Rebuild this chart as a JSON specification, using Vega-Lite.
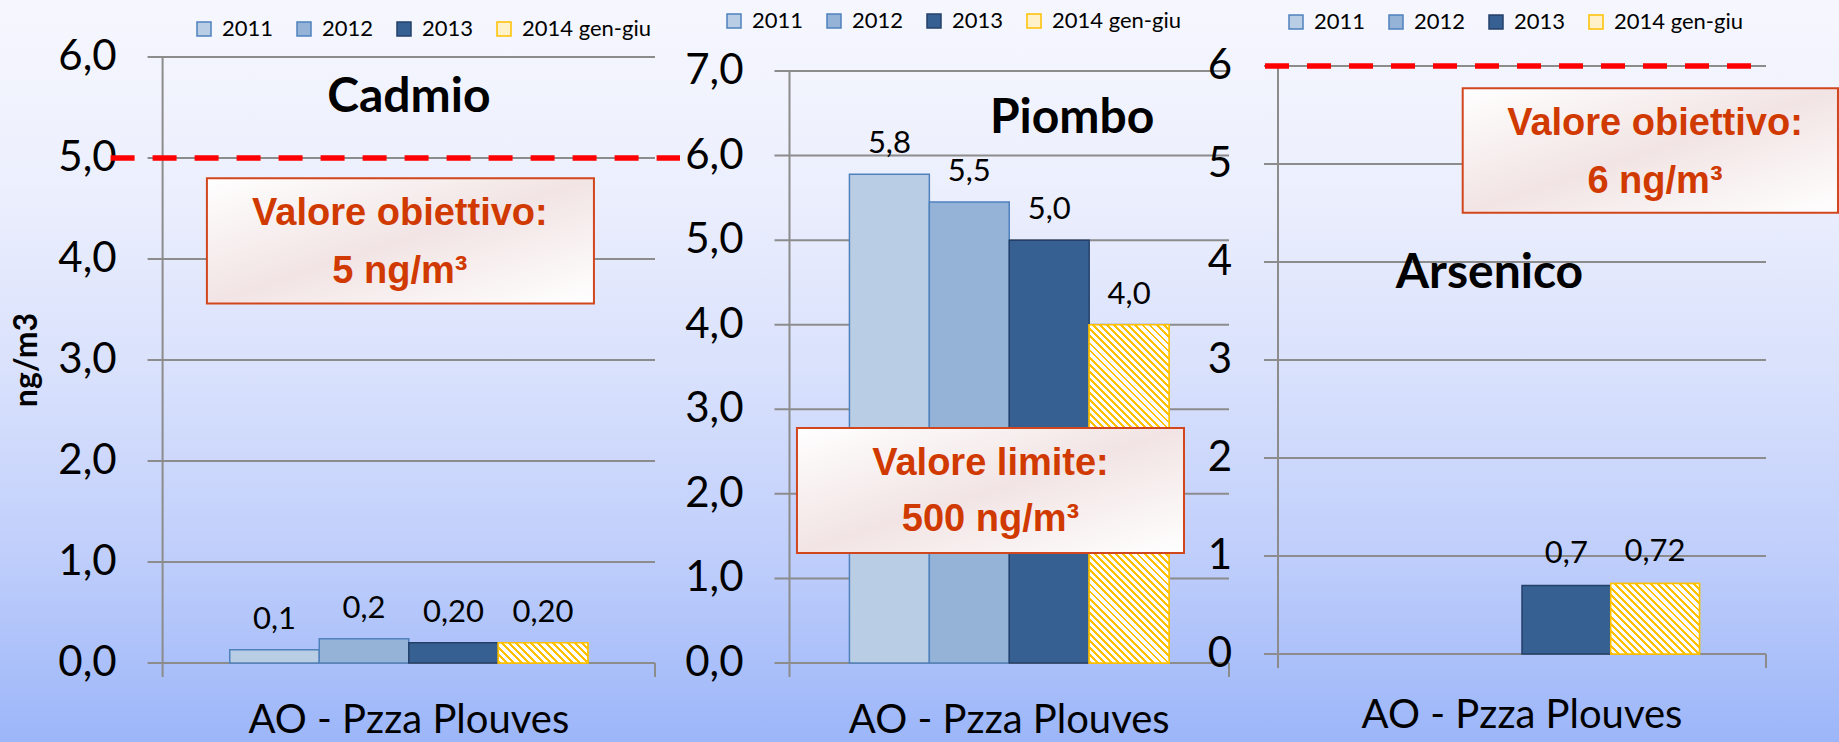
{
  "$schema": "https://vega.github.io/schema/vega-lite/v6.json",
  "width": 1839,
  "height": 742,
  "autosize": {"type": "none"},
  "padding": 0,
  "background": "#DCE3FC",
  "datasets": {
    "bars": [
      {"metal": "Cadmio", "site": "AO - Pzza Plouves", "year": "2011", "value": 0.13, "label": "0,1"},
      {"metal": "Cadmio", "site": "AO - Pzza Plouves", "year": "2012", "value": 0.24, "label": "0,2"},
      {"metal": "Cadmio", "site": "AO - Pzza Plouves", "year": "2013", "value": 0.20, "label": "0,20"},
      {"metal": "Cadmio", "site": "AO - Pzza Plouves", "year": "2014 gen-giu", "value": 0.20, "label": "0,20"},
      {"metal": "Piombo", "site": "AO - Pzza Plouves", "year": "2011", "value": 5.78, "label": "5,8"},
      {"metal": "Piombo", "site": "AO - Pzza Plouves", "year": "2012", "value": 5.45, "label": "5,5"},
      {"metal": "Piombo", "site": "AO - Pzza Plouves", "year": "2013", "value": 5.0, "label": "5,0"},
      {"metal": "Piombo", "site": "AO - Pzza Plouves", "year": "2014 gen-giu", "value": 4.0, "label": "4,0"},
      {"metal": "Arsenico", "site": "AO - Pzza Plouves", "year": "2013", "value": 0.70, "label": "0,7"},
      {"metal": "Arsenico", "site": "AO - Pzza Plouves", "year": "2014 gen-giu", "value": 0.72, "label": "0,72"}
    ],
    "ticks": [
      {"metal": "Cadmio", "v": 0}, {"metal": "Cadmio", "v": 1}, {"metal": "Cadmio", "v": 2}, {"metal": "Cadmio", "v": 3},
      {"metal": "Cadmio", "v": 4}, {"metal": "Cadmio", "v": 5}, {"metal": "Cadmio", "v": 6},
      {"metal": "Piombo", "v": 0}, {"metal": "Piombo", "v": 1}, {"metal": "Piombo", "v": 2}, {"metal": "Piombo", "v": 3},
      {"metal": "Piombo", "v": 4}, {"metal": "Piombo", "v": 5}, {"metal": "Piombo", "v": 6}, {"metal": "Piombo", "v": 7},
      {"metal": "Arsenico", "v": 0}, {"metal": "Arsenico", "v": 1}, {"metal": "Arsenico", "v": 2}, {"metal": "Arsenico", "v": 3},
      {"metal": "Arsenico", "v": 4}, {"metal": "Arsenico", "v": 5}, {"metal": "Arsenico", "v": 6}
    ],
    "one": [{}]
  },
  "config": {
    "view": {"stroke": null, "fill": {"gradient": "linear", "x1": 0, "y1": 0, "x2": 0, "y2": 1, "stops": [{"offset": 0, "color": "#F6F7FE"}, {"offset": 0.25, "color": "#ECEFFD"}, {"offset": 0.5, "color": "#D9E1FC"}, {"offset": 0.75, "color": "#BFCEFB"}, {"offset": 1, "color": "#9CB6F9"}]}},
    "locale": {"number": {"decimal": ",", "thousands": ".", "grouping": [3], "currency": ["€", ""]}},
    "text": {"font": "Lato", "color": "#000000"},
    "legend": {"orient": "none", "direction": "horizontal", "title": null, "symbolType": "square", "symbolSize": 196, "symbolStrokeWidth": 1.5, "labelFont": "Lato", "labelFontSize": 22, "labelColor": "#000000", "labelOffset": 7, "columnPadding": 19, "padding": 0}
  },
  "resolve": {
    "scale": {"x": "independent", "y": "independent", "xOffset": "independent", "color": "independent", "stroke": "independent"},
    "legend": {"color": "independent", "stroke": "independent"}
  },
  "layer": [
    {
      "layer": [
        {
          "data": {"name": "ticks"}, "transform": [{"filter": "datum.metal === 'Cadmio'"}],
          "mark": {"type": "rule", "color": "#8C8C8C", "strokeWidth": 2, "xOffset": -15},
          "encoding": {
            "x": {"datum": "AO - Pzza Plouves", "type": "nominal", "bandPosition": 0, "axis": null, "scale": {"domain": ["AO - Pzza Plouves"], "range": [162.6, 655], "paddingInner": 0, "paddingOuter": 0}},
            "x2": {"datum": "AO - Pzza Plouves", "bandPosition": 1},
            "y": {"field": "v", "type": "quantitative", "axis": null, "scale": {"domain": [0, 6], "range": [663, 57], "nice": false, "zero": false}}
          }
        },
        {
          "data": {"name": "one"},
          "mark": {"type": "rule", "color": "#8C8C8C", "strokeWidth": 2, "y2Offset": 14},
          "encoding": {
            "x": {"datum": "AO - Pzza Plouves", "type": "nominal", "bandPosition": 0},
            "y": {"datum": 6, "type": "quantitative"},
            "y2": {"datum": 0}
          }
        },
        {
          "data": {"name": "one"},
          "mark": {"type": "rule", "color": "#8C8C8C", "strokeWidth": 2, "y2Offset": 14},
          "encoding": {
            "x": {"datum": "AO - Pzza Plouves", "type": "nominal", "bandPosition": 1},
            "y": {"datum": 0, "type": "quantitative"},
            "y2": {"datum": 0}
          }
        },
        {
          "data": {"name": "ticks"}, "transform": [{"filter": "datum.metal === 'Cadmio'"}],
          "mark": {"type": "text", "align": "right", "baseline": "middle", "dx": -46, "fontSize": 42},
          "encoding": {
            "x": {"datum": "AO - Pzza Plouves", "type": "nominal", "bandPosition": 0},
            "y": {"field": "v", "type": "quantitative"},
            "text": {"field": "v", "type": "quantitative", "format": ".1f"}
          }
        },
        {
          "data": {"name": "bars"}, "transform": [{"filter": "datum.metal === 'Cadmio'"}],
          "mark": {"type": "bar", "strokeWidth": 1.5},
          "encoding": {
            "x": {"field": "site", "type": "nominal"},
            "xOffset": {"field": "year", "type": "nominal", "scale": {"domain": ["2011", "2012", "2013", "2014 gen-giu"], "paddingInner": 0, "paddingOuter": 0.75}},
            "y": {"field": "value", "type": "quantitative"},
            "color": {"field": "year", "type": "nominal", "scale": {"domain": ["2011", "2012", "2013", "2014 gen-giu"], "range": ["#B9CDE5", "#95B3D7", "#376092", "#FFF1C9"]}, "legend": {"legendX": 193, "legendY": 18}},
            "stroke": {"field": "year", "type": "nominal", "scale": {"domain": ["2011", "2012", "2013", "2014 gen-giu"], "range": ["#4F81BD", "#4F81BD", "#24406A", "#FFC000"]}, "legend": {"legendX": 193, "legendY": 18}}
          }
        },
        {
          "data": {"name": "bars"}, "transform": [{"filter": "datum.metal === 'Cadmio' && datum.year === '2014 gen-giu'"}],
          "mark": {"type": "bar", "strokeWidth": 1.5, "stroke": "#FFC000", "fill": {"gradient": "linear", "x1": 0, "y1": 1, "x2": 1.1663, "y2": 0.7369, "stops": [
            {"offset": 0, "color": "#FFC000"}, {"offset": 0.0267, "color": "#FFC000"}, {"offset": 0.0267, "color": "#FFFFFF"}, {"offset": 0.0667, "color": "#FFFFFF"},
            {"offset": 0.0667, "color": "#FFC000"}, {"offset": 0.0933, "color": "#FFC000"}, {"offset": 0.0933, "color": "#FFFFFF"}, {"offset": 0.1333, "color": "#FFFFFF"},
            {"offset": 0.1333, "color": "#FFC000"}, {"offset": 0.16, "color": "#FFC000"}, {"offset": 0.16, "color": "#FFFFFF"}, {"offset": 0.2, "color": "#FFFFFF"},
            {"offset": 0.2, "color": "#FFC000"}, {"offset": 0.2267, "color": "#FFC000"}, {"offset": 0.2267, "color": "#FFFFFF"}, {"offset": 0.2667, "color": "#FFFFFF"},
            {"offset": 0.2667, "color": "#FFC000"}, {"offset": 0.2933, "color": "#FFC000"}, {"offset": 0.2933, "color": "#FFFFFF"}, {"offset": 0.3333, "color": "#FFFFFF"},
            {"offset": 0.3333, "color": "#FFC000"}, {"offset": 0.36, "color": "#FFC000"}, {"offset": 0.36, "color": "#FFFFFF"}, {"offset": 0.4, "color": "#FFFFFF"},
            {"offset": 0.4, "color": "#FFC000"}, {"offset": 0.4267, "color": "#FFC000"}, {"offset": 0.4267, "color": "#FFFFFF"}, {"offset": 0.4667, "color": "#FFFFFF"},
            {"offset": 0.4667, "color": "#FFC000"}, {"offset": 0.4933, "color": "#FFC000"}, {"offset": 0.4933, "color": "#FFFFFF"}, {"offset": 0.5333, "color": "#FFFFFF"},
            {"offset": 0.5333, "color": "#FFC000"}, {"offset": 0.56, "color": "#FFC000"}, {"offset": 0.56, "color": "#FFFFFF"}, {"offset": 0.6, "color": "#FFFFFF"},
            {"offset": 0.6, "color": "#FFC000"}, {"offset": 0.6267, "color": "#FFC000"}, {"offset": 0.6267, "color": "#FFFFFF"}, {"offset": 0.6667, "color": "#FFFFFF"},
            {"offset": 0.6667, "color": "#FFC000"}, {"offset": 0.6933, "color": "#FFC000"}, {"offset": 0.6933, "color": "#FFFFFF"}, {"offset": 0.7333, "color": "#FFFFFF"},
            {"offset": 0.7333, "color": "#FFC000"}, {"offset": 0.76, "color": "#FFC000"}, {"offset": 0.76, "color": "#FFFFFF"}, {"offset": 0.8, "color": "#FFFFFF"},
            {"offset": 0.8, "color": "#FFC000"}, {"offset": 0.8267, "color": "#FFC000"}, {"offset": 0.8267, "color": "#FFFFFF"}, {"offset": 0.8667, "color": "#FFFFFF"},
            {"offset": 0.8667, "color": "#FFC000"}, {"offset": 0.8933, "color": "#FFC000"}, {"offset": 0.8933, "color": "#FFFFFF"}, {"offset": 0.9333, "color": "#FFFFFF"},
            {"offset": 0.9333, "color": "#FFC000"}, {"offset": 0.96, "color": "#FFC000"}, {"offset": 0.96, "color": "#FFFFFF"}, {"offset": 1, "color": "#FFFFFF"}
          ]}},
          "encoding": {
            "x": {"field": "site", "type": "nominal"},
            "xOffset": {"field": "year", "type": "nominal", "scale": {"domain": ["2011", "2012", "2013", "2014 gen-giu"], "paddingInner": 0, "paddingOuter": 0.75}},
            "y": {"field": "value", "type": "quantitative"}
          }
        },
        {
          "data": {"name": "bars"}, "transform": [{"filter": "datum.metal === 'Cadmio'"}],
          "mark": {"type": "text", "baseline": "middle", "dy": -30, "fontSize": 31},
          "encoding": {
            "x": {"field": "site", "type": "nominal"},
            "xOffset": {"field": "year", "type": "nominal"},
            "y": {"field": "value", "type": "quantitative"},
            "text": {"field": "label"}
          }
        },
        {
          "data": {"name": "one"},
          "mark": {"type": "rule", "color": "#FF0000", "strokeWidth": 5.5, "strokeDash": [24, 18], "xOffset": -52, "x2Offset": 25},
          "encoding": {
            "x": {"datum": "AO - Pzza Plouves", "type": "nominal", "bandPosition": 0},
            "x2": {"datum": "AO - Pzza Plouves", "bandPosition": 1},
            "y": {"datum": 5, "type": "quantitative"}
          }
        },
        {
          "data": {"name": "one"},
          "mark": {"type": "rect", "stroke": "#D2461E", "strokeWidth": 2, "fill": {"gradient": "linear", "x1": 0, "y1": 0, "x2": 1, "y2": 1, "stops": [{"offset": 0, "color": "#FFFFFF"}, {"offset": 0.5, "color": "#F2E4E4"}, {"offset": 1, "color": "#FFFFFF"}]}},
          "encoding": {
            "x": {"datum": "AO - Pzza Plouves", "type": "nominal", "bandPosition": 0.09},
            "x2": {"datum": "AO - Pzza Plouves", "bandPosition": 0.876},
            "y": {"datum": 4.80, "type": "quantitative"},
            "y2": {"datum": 3.56}
          }
        },
        {
          "data": {"name": "one"},
          "mark": {"type": "text", "font": "Liberation Sans", "fontWeight": "bold", "fontSize": 38, "color": "#D03A00", "baseline": "middle", "lineHeight": 58},
          "encoding": {
            "x": {"datum": "AO - Pzza Plouves", "type": "nominal", "bandPosition": 0.482},
            "y": {"datum": 4.444, "type": "quantitative"},
            "text": {"value": ["Valore obiettivo:", "5 ng/m³"]}
          }
        },
        {
          "data": {"name": "one"},
          "mark": {"type": "text", "fontWeight": "bold", "fontSize": 48, "baseline": "alphabetic"},
          "encoding": {
            "x": {"datum": "AO - Pzza Plouves", "type": "nominal", "bandPosition": 0.5},
            "y": {"datum": 5.455, "type": "quantitative"},
            "text": {"value": "Cadmio"}
          }
        },
        {
          "data": {"name": "one"},
          "mark": {"type": "text", "fontSize": 40, "baseline": "alphabetic", "dy": 70},
          "encoding": {
            "x": {"datum": "AO - Pzza Plouves", "type": "nominal", "bandPosition": 0.5},
            "y": {"datum": 0, "type": "quantitative"},
            "text": {"value": "AO - Pzza Plouves"}
          }
        },
        {
          "data": {"name": "one"},
          "mark": {"type": "text", "fontSize": 32, "fontWeight": "bold", "angle": 270, "baseline": "middle", "dy": -136},
          "encoding": {
            "x": {"datum": "AO - Pzza Plouves", "type": "nominal", "bandPosition": 0},
            "y": {"datum": 3, "type": "quantitative"},
            "text": {"value": "ng/m3"}
          }
        }
      ]
    },
    {
      "layer": [
        {
          "data": {"name": "ticks"}, "transform": [{"filter": "datum.metal === 'Piombo'"}],
          "mark": {"type": "rule", "color": "#8C8C8C", "strokeWidth": 2, "xOffset": -15},
          "encoding": {
            "x": {"datum": "AO - Pzza Plouves", "type": "nominal", "bandPosition": 0, "axis": null, "scale": {"domain": ["AO - Pzza Plouves"], "range": [789.5, 1229], "paddingInner": 0, "paddingOuter": 0}},
            "x2": {"datum": "AO - Pzza Plouves", "bandPosition": 1},
            "y": {"field": "v", "type": "quantitative", "axis": null, "scale": {"domain": [0, 7], "range": [663, 71], "nice": false, "zero": false}}
          }
        },
        {
          "data": {"name": "one"},
          "mark": {"type": "rule", "color": "#8C8C8C", "strokeWidth": 2, "y2Offset": 14},
          "encoding": {
            "x": {"datum": "AO - Pzza Plouves", "type": "nominal", "bandPosition": 0},
            "y": {"datum": 7, "type": "quantitative"},
            "y2": {"datum": 0}
          }
        },
        {
          "data": {"name": "one"},
          "mark": {"type": "rule", "color": "#8C8C8C", "strokeWidth": 2, "y2Offset": 14},
          "encoding": {
            "x": {"datum": "AO - Pzza Plouves", "type": "nominal", "bandPosition": 1},
            "y": {"datum": 0, "type": "quantitative"},
            "y2": {"datum": 0}
          }
        },
        {
          "data": {"name": "ticks"}, "transform": [{"filter": "datum.metal === 'Piombo'"}],
          "mark": {"type": "text", "align": "right", "baseline": "middle", "dx": -46, "fontSize": 42},
          "encoding": {
            "x": {"datum": "AO - Pzza Plouves", "type": "nominal", "bandPosition": 0},
            "y": {"field": "v", "type": "quantitative"},
            "text": {"field": "v", "type": "quantitative", "format": ".1f"}
          }
        },
        {
          "data": {"name": "bars"}, "transform": [{"filter": "datum.metal === 'Piombo'"}],
          "mark": {"type": "bar", "strokeWidth": 1.5},
          "encoding": {
            "x": {"field": "site", "type": "nominal"},
            "xOffset": {"field": "year", "type": "nominal", "scale": {"domain": ["2011", "2012", "2013", "2014 gen-giu"], "paddingInner": 0, "paddingOuter": 0.75}},
            "y": {"field": "value", "type": "quantitative"},
            "color": {"field": "year", "type": "nominal", "scale": {"domain": ["2011", "2012", "2013", "2014 gen-giu"], "range": ["#B9CDE5", "#95B3D7", "#376092", "#FFF1C9"]}, "legend": {"legendX": 723, "legendY": 10}},
            "stroke": {"field": "year", "type": "nominal", "scale": {"domain": ["2011", "2012", "2013", "2014 gen-giu"], "range": ["#4F81BD", "#4F81BD", "#24406A", "#FFC000"]}, "legend": {"legendX": 723, "legendY": 10}}
          }
        },
        {
          "data": {"name": "bars"}, "transform": [{"filter": "datum.metal === 'Piombo' && datum.year === '2014 gen-giu'"}],
          "mark": {"type": "bar", "strokeWidth": 1.5, "stroke": "#FFC000", "fill": {"gradient": "linear", "x1": 0, "y1": 1, "x2": 0.27658, "y2": -0.17089, "stops": [
            {"offset": 0, "color": "#FFC000"}, {"offset": 0.0068, "color": "#FFC000"}, {"offset": 0.0068, "color": "#FFFFFF"}, {"offset": 0.0169, "color": "#FFFFFF"},
            {"offset": 0.0169, "color": "#FFC000"}, {"offset": 0.0237, "color": "#FFC000"}, {"offset": 0.0237, "color": "#FFFFFF"}, {"offset": 0.0339, "color": "#FFFFFF"},
            {"offset": 0.0339, "color": "#FFC000"}, {"offset": 0.0407, "color": "#FFC000"}, {"offset": 0.0407, "color": "#FFFFFF"}, {"offset": 0.0508, "color": "#FFFFFF"},
            {"offset": 0.0508, "color": "#FFC000"}, {"offset": 0.0576, "color": "#FFC000"}, {"offset": 0.0576, "color": "#FFFFFF"}, {"offset": 0.0678, "color": "#FFFFFF"},
            {"offset": 0.0678, "color": "#FFC000"}, {"offset": 0.0746, "color": "#FFC000"}, {"offset": 0.0746, "color": "#FFFFFF"}, {"offset": 0.0847, "color": "#FFFFFF"},
            {"offset": 0.0847, "color": "#FFC000"}, {"offset": 0.0915, "color": "#FFC000"}, {"offset": 0.0915, "color": "#FFFFFF"}, {"offset": 0.1017, "color": "#FFFFFF"},
            {"offset": 0.1017, "color": "#FFC000"}, {"offset": 0.1085, "color": "#FFC000"}, {"offset": 0.1085, "color": "#FFFFFF"}, {"offset": 0.1186, "color": "#FFFFFF"},
            {"offset": 0.1186, "color": "#FFC000"}, {"offset": 0.1254, "color": "#FFC000"}, {"offset": 0.1254, "color": "#FFFFFF"}, {"offset": 0.1356, "color": "#FFFFFF"},
            {"offset": 0.1356, "color": "#FFC000"}, {"offset": 0.1424, "color": "#FFC000"}, {"offset": 0.1424, "color": "#FFFFFF"}, {"offset": 0.1525, "color": "#FFFFFF"},
            {"offset": 0.1525, "color": "#FFC000"}, {"offset": 0.1593, "color": "#FFC000"}, {"offset": 0.1593, "color": "#FFFFFF"}, {"offset": 0.1695, "color": "#FFFFFF"},
            {"offset": 0.1695, "color": "#FFC000"}, {"offset": 0.1763, "color": "#FFC000"}, {"offset": 0.1763, "color": "#FFFFFF"}, {"offset": 0.1864, "color": "#FFFFFF"},
            {"offset": 0.1864, "color": "#FFC000"}, {"offset": 0.1932, "color": "#FFC000"}, {"offset": 0.1932, "color": "#FFFFFF"}, {"offset": 0.2034, "color": "#FFFFFF"},
            {"offset": 0.2034, "color": "#FFC000"}, {"offset": 0.2102, "color": "#FFC000"}, {"offset": 0.2102, "color": "#FFFFFF"}, {"offset": 0.2203, "color": "#FFFFFF"},
            {"offset": 0.2203, "color": "#FFC000"}, {"offset": 0.2271, "color": "#FFC000"}, {"offset": 0.2271, "color": "#FFFFFF"}, {"offset": 0.2373, "color": "#FFFFFF"},
            {"offset": 0.2373, "color": "#FFC000"}, {"offset": 0.2441, "color": "#FFC000"}, {"offset": 0.2441, "color": "#FFFFFF"}, {"offset": 0.2542, "color": "#FFFFFF"},
            {"offset": 0.2542, "color": "#FFC000"}, {"offset": 0.2610, "color": "#FFC000"}, {"offset": 0.2610, "color": "#FFFFFF"}, {"offset": 0.2712, "color": "#FFFFFF"},
            {"offset": 0.2712, "color": "#FFC000"}, {"offset": 0.2780, "color": "#FFC000"}, {"offset": 0.2780, "color": "#FFFFFF"}, {"offset": 0.2881, "color": "#FFFFFF"},
            {"offset": 0.2881, "color": "#FFC000"}, {"offset": 0.2949, "color": "#FFC000"}, {"offset": 0.2949, "color": "#FFFFFF"}, {"offset": 0.3051, "color": "#FFFFFF"},
            {"offset": 0.3051, "color": "#FFC000"}, {"offset": 0.3119, "color": "#FFC000"}, {"offset": 0.3119, "color": "#FFFFFF"}, {"offset": 0.3220, "color": "#FFFFFF"},
            {"offset": 0.3220, "color": "#FFC000"}, {"offset": 0.3288, "color": "#FFC000"}, {"offset": 0.3288, "color": "#FFFFFF"}, {"offset": 0.3390, "color": "#FFFFFF"},
            {"offset": 0.3390, "color": "#FFC000"}, {"offset": 0.3458, "color": "#FFC000"}, {"offset": 0.3458, "color": "#FFFFFF"}, {"offset": 0.3559, "color": "#FFFFFF"},
            {"offset": 0.3559, "color": "#FFC000"}, {"offset": 0.3627, "color": "#FFC000"}, {"offset": 0.3627, "color": "#FFFFFF"}, {"offset": 0.3729, "color": "#FFFFFF"},
            {"offset": 0.3729, "color": "#FFC000"}, {"offset": 0.3797, "color": "#FFC000"}, {"offset": 0.3797, "color": "#FFFFFF"}, {"offset": 0.3898, "color": "#FFFFFF"},
            {"offset": 0.3898, "color": "#FFC000"}, {"offset": 0.3966, "color": "#FFC000"}, {"offset": 0.3966, "color": "#FFFFFF"}, {"offset": 0.4068, "color": "#FFFFFF"},
            {"offset": 0.4068, "color": "#FFC000"}, {"offset": 0.4136, "color": "#FFC000"}, {"offset": 0.4136, "color": "#FFFFFF"}, {"offset": 0.4237, "color": "#FFFFFF"},
            {"offset": 0.4237, "color": "#FFC000"}, {"offset": 0.4305, "color": "#FFC000"}, {"offset": 0.4305, "color": "#FFFFFF"}, {"offset": 0.4407, "color": "#FFFFFF"},
            {"offset": 0.4407, "color": "#FFC000"}, {"offset": 0.4475, "color": "#FFC000"}, {"offset": 0.4475, "color": "#FFFFFF"}, {"offset": 0.4576, "color": "#FFFFFF"},
            {"offset": 0.4576, "color": "#FFC000"}, {"offset": 0.4644, "color": "#FFC000"}, {"offset": 0.4644, "color": "#FFFFFF"}, {"offset": 0.4746, "color": "#FFFFFF"},
            {"offset": 0.4746, "color": "#FFC000"}, {"offset": 0.4814, "color": "#FFC000"}, {"offset": 0.4814, "color": "#FFFFFF"}, {"offset": 0.4915, "color": "#FFFFFF"},
            {"offset": 0.4915, "color": "#FFC000"}, {"offset": 0.4983, "color": "#FFC000"}, {"offset": 0.4983, "color": "#FFFFFF"}, {"offset": 0.5085, "color": "#FFFFFF"},
            {"offset": 0.5085, "color": "#FFC000"}, {"offset": 0.5153, "color": "#FFC000"}, {"offset": 0.5153, "color": "#FFFFFF"}, {"offset": 0.5254, "color": "#FFFFFF"},
            {"offset": 0.5254, "color": "#FFC000"}, {"offset": 0.5322, "color": "#FFC000"}, {"offset": 0.5322, "color": "#FFFFFF"}, {"offset": 0.5424, "color": "#FFFFFF"},
            {"offset": 0.5424, "color": "#FFC000"}, {"offset": 0.5492, "color": "#FFC000"}, {"offset": 0.5492, "color": "#FFFFFF"}, {"offset": 0.5593, "color": "#FFFFFF"},
            {"offset": 0.5593, "color": "#FFC000"}, {"offset": 0.5661, "color": "#FFC000"}, {"offset": 0.5661, "color": "#FFFFFF"}, {"offset": 0.5763, "color": "#FFFFFF"},
            {"offset": 0.5763, "color": "#FFC000"}, {"offset": 0.5831, "color": "#FFC000"}, {"offset": 0.5831, "color": "#FFFFFF"}, {"offset": 0.5932, "color": "#FFFFFF"},
            {"offset": 0.5932, "color": "#FFC000"}, {"offset": 0.6000, "color": "#FFC000"}, {"offset": 0.6000, "color": "#FFFFFF"}, {"offset": 0.6102, "color": "#FFFFFF"},
            {"offset": 0.6102, "color": "#FFC000"}, {"offset": 0.6170, "color": "#FFC000"}, {"offset": 0.6170, "color": "#FFFFFF"}, {"offset": 0.6271, "color": "#FFFFFF"},
            {"offset": 0.6271, "color": "#FFC000"}, {"offset": 0.6339, "color": "#FFC000"}, {"offset": 0.6339, "color": "#FFFFFF"}, {"offset": 0.6441, "color": "#FFFFFF"},
            {"offset": 0.6441, "color": "#FFC000"}, {"offset": 0.6509, "color": "#FFC000"}, {"offset": 0.6509, "color": "#FFFFFF"}, {"offset": 0.6610, "color": "#FFFFFF"},
            {"offset": 0.6610, "color": "#FFC000"}, {"offset": 0.6678, "color": "#FFC000"}, {"offset": 0.6678, "color": "#FFFFFF"}, {"offset": 0.6780, "color": "#FFFFFF"},
            {"offset": 0.6780, "color": "#FFC000"}, {"offset": 0.6848, "color": "#FFC000"}, {"offset": 0.6848, "color": "#FFFFFF"}, {"offset": 0.6949, "color": "#FFFFFF"},
            {"offset": 0.6949, "color": "#FFC000"}, {"offset": 0.7017, "color": "#FFC000"}, {"offset": 0.7017, "color": "#FFFFFF"}, {"offset": 0.7119, "color": "#FFFFFF"},
            {"offset": 0.7119, "color": "#FFC000"}, {"offset": 0.7187, "color": "#FFC000"}, {"offset": 0.7187, "color": "#FFFFFF"}, {"offset": 0.7288, "color": "#FFFFFF"},
            {"offset": 0.7288, "color": "#FFC000"}, {"offset": 0.7356, "color": "#FFC000"}, {"offset": 0.7356, "color": "#FFFFFF"}, {"offset": 0.7458, "color": "#FFFFFF"},
            {"offset": 0.7458, "color": "#FFC000"}, {"offset": 0.7526, "color": "#FFC000"}, {"offset": 0.7526, "color": "#FFFFFF"}, {"offset": 0.7627, "color": "#FFFFFF"},
            {"offset": 0.7627, "color": "#FFC000"}, {"offset": 0.7695, "color": "#FFC000"}, {"offset": 0.7695, "color": "#FFFFFF"}, {"offset": 0.7797, "color": "#FFFFFF"},
            {"offset": 0.7797, "color": "#FFC000"}, {"offset": 0.7865, "color": "#FFC000"}, {"offset": 0.7865, "color": "#FFFFFF"}, {"offset": 0.7966, "color": "#FFFFFF"},
            {"offset": 0.7966, "color": "#FFC000"}, {"offset": 0.8034, "color": "#FFC000"}, {"offset": 0.8034, "color": "#FFFFFF"}, {"offset": 0.8136, "color": "#FFFFFF"},
            {"offset": 0.8136, "color": "#FFC000"}, {"offset": 0.8204, "color": "#FFC000"}, {"offset": 0.8204, "color": "#FFFFFF"}, {"offset": 0.8305, "color": "#FFFFFF"},
            {"offset": 0.8305, "color": "#FFC000"}, {"offset": 0.8373, "color": "#FFC000"}, {"offset": 0.8373, "color": "#FFFFFF"}, {"offset": 0.8475, "color": "#FFFFFF"},
            {"offset": 0.8475, "color": "#FFC000"}, {"offset": 0.8543, "color": "#FFC000"}, {"offset": 0.8543, "color": "#FFFFFF"}, {"offset": 0.8644, "color": "#FFFFFF"},
            {"offset": 0.8644, "color": "#FFC000"}, {"offset": 0.8712, "color": "#FFC000"}, {"offset": 0.8712, "color": "#FFFFFF"}, {"offset": 0.8814, "color": "#FFFFFF"},
            {"offset": 0.8814, "color": "#FFC000"}, {"offset": 0.8882, "color": "#FFC000"}, {"offset": 0.8882, "color": "#FFFFFF"}, {"offset": 0.8983, "color": "#FFFFFF"},
            {"offset": 0.8983, "color": "#FFC000"}, {"offset": 0.9051, "color": "#FFC000"}, {"offset": 0.9051, "color": "#FFFFFF"}, {"offset": 0.9153, "color": "#FFFFFF"},
            {"offset": 0.9153, "color": "#FFC000"}, {"offset": 0.9221, "color": "#FFC000"}, {"offset": 0.9221, "color": "#FFFFFF"}, {"offset": 0.9322, "color": "#FFFFFF"},
            {"offset": 0.9322, "color": "#FFC000"}, {"offset": 0.9390, "color": "#FFC000"}, {"offset": 0.9390, "color": "#FFFFFF"}, {"offset": 0.9492, "color": "#FFFFFF"},
            {"offset": 0.9492, "color": "#FFC000"}, {"offset": 0.9560, "color": "#FFC000"}, {"offset": 0.9560, "color": "#FFFFFF"}, {"offset": 0.9661, "color": "#FFFFFF"},
            {"offset": 0.9661, "color": "#FFC000"}, {"offset": 0.9729, "color": "#FFC000"}, {"offset": 0.9729, "color": "#FFFFFF"}, {"offset": 0.9831, "color": "#FFFFFF"},
            {"offset": 0.9831, "color": "#FFC000"}, {"offset": 0.9899, "color": "#FFC000"}, {"offset": 0.9899, "color": "#FFFFFF"}, {"offset": 1, "color": "#FFFFFF"}
          ]}},
          "encoding": {
            "x": {"field": "site", "type": "nominal"},
            "xOffset": {"field": "year", "type": "nominal", "scale": {"domain": ["2011", "2012", "2013", "2014 gen-giu"], "paddingInner": 0, "paddingOuter": 0.75}},
            "y": {"field": "value", "type": "quantitative"}
          }
        },
        {
          "data": {"name": "bars"}, "transform": [{"filter": "datum.metal === 'Piombo'"}],
          "mark": {"type": "text", "baseline": "middle", "dy": -30, "fontSize": 31},
          "encoding": {
            "x": {"field": "site", "type": "nominal"},
            "xOffset": {"field": "year", "type": "nominal"},
            "y": {"field": "value", "type": "quantitative"},
            "text": {"field": "label"}
          }
        },
        {
          "data": {"name": "one"},
          "mark": {"type": "rect", "stroke": "#D2461E", "strokeWidth": 2, "fill": {"gradient": "linear", "x1": 0, "y1": 0, "x2": 1, "y2": 1, "stops": [{"offset": 0, "color": "#FFFFFF"}, {"offset": 0.5, "color": "#F2E4E4"}, {"offset": 1, "color": "#FFFFFF"}]}},
          "encoding": {
            "x": {"datum": "AO - Pzza Plouves", "type": "nominal", "bandPosition": 0.017},
            "x2": {"datum": "AO - Pzza Plouves", "bandPosition": 0.8976},
            "y": {"datum": 2.779, "type": "quantitative"},
            "y2": {"datum": 1.3007}
          }
        },
        {
          "data": {"name": "one"},
          "mark": {"type": "text", "font": "Liberation Sans", "fontWeight": "bold", "fontSize": 38, "color": "#D03A00", "baseline": "middle", "lineHeight": 56},
          "encoding": {
            "x": {"datum": "AO - Pzza Plouves", "type": "nominal", "bandPosition": 0.4573},
            "y": {"datum": 2.351, "type": "quantitative"},
            "text": {"value": ["Valore limite:", "500 ng/m³"]}
          }
        },
        {
          "data": {"name": "one"},
          "mark": {"type": "text", "fontWeight": "bold", "fontSize": 48, "baseline": "alphabetic"},
          "encoding": {
            "x": {"datum": "AO - Pzza Plouves", "type": "nominal", "bandPosition": 0.643},
            "y": {"datum": 6.267, "type": "quantitative"},
            "text": {"value": "Piombo"}
          }
        },
        {
          "data": {"name": "one"},
          "mark": {"type": "text", "fontSize": 40, "baseline": "alphabetic", "dy": 70},
          "encoding": {
            "x": {"datum": "AO - Pzza Plouves", "type": "nominal", "bandPosition": 0.5},
            "y": {"datum": 0, "type": "quantitative"},
            "text": {"value": "AO - Pzza Plouves"}
          }
        }
      ]
    },
    {
      "layer": [
        {
          "data": {"name": "ticks"}, "transform": [{"filter": "datum.metal === 'Arsenico'"}],
          "mark": {"type": "rule", "color": "#8C8C8C", "strokeWidth": 2, "xOffset": -14},
          "encoding": {
            "x": {"datum": "AO - Pzza Plouves", "type": "nominal", "bandPosition": 0, "axis": null, "scale": {"domain": ["AO - Pzza Plouves"], "range": [1278, 1766], "paddingInner": 0, "paddingOuter": 0}},
            "x2": {"datum": "AO - Pzza Plouves", "bandPosition": 1},
            "y": {"field": "v", "type": "quantitative", "axis": null, "scale": {"domain": [0, 6], "range": [654, 66], "nice": false, "zero": false}}
          }
        },
        {
          "data": {"name": "one"},
          "mark": {"type": "rule", "color": "#8C8C8C", "strokeWidth": 2, "y2Offset": 14},
          "encoding": {
            "x": {"datum": "AO - Pzza Plouves", "type": "nominal", "bandPosition": 0},
            "y": {"datum": 6, "type": "quantitative"},
            "y2": {"datum": 0}
          }
        },
        {
          "data": {"name": "one"},
          "mark": {"type": "rule", "color": "#8C8C8C", "strokeWidth": 2, "y2Offset": 14},
          "encoding": {
            "x": {"datum": "AO - Pzza Plouves", "type": "nominal", "bandPosition": 1},
            "y": {"datum": 0, "type": "quantitative"},
            "y2": {"datum": 0}
          }
        },
        {
          "data": {"name": "ticks"}, "transform": [{"filter": "datum.metal === 'Arsenico'"}],
          "mark": {"type": "text", "align": "right", "baseline": "middle", "dx": -46, "fontSize": 42},
          "encoding": {
            "x": {"datum": "AO - Pzza Plouves", "type": "nominal", "bandPosition": 0},
            "y": {"field": "v", "type": "quantitative"},
            "text": {"field": "v", "type": "quantitative", "format": "d"}
          }
        },
        {
          "data": {"name": "bars"}, "transform": [{"filter": "datum.metal === 'Arsenico'"}],
          "mark": {"type": "bar", "strokeWidth": 1.5},
          "encoding": {
            "x": {"field": "site", "type": "nominal"},
            "xOffset": {"field": "year", "type": "nominal", "scale": {"domain": ["2011", "2012", "2013", "2014 gen-giu"], "paddingInner": 0, "paddingOuter": 0.75}},
            "y": {"field": "value", "type": "quantitative"},
            "color": {"field": "year", "type": "nominal", "scale": {"domain": ["2011", "2012", "2013", "2014 gen-giu"], "range": ["#B9CDE5", "#95B3D7", "#376092", "#FFF1C9"]}, "legend": {"legendX": 1285, "legendY": 11}},
            "stroke": {"field": "year", "type": "nominal", "scale": {"domain": ["2011", "2012", "2013", "2014 gen-giu"], "range": ["#4F81BD", "#4F81BD", "#24406A", "#FFC000"]}, "legend": {"legendX": 1285, "legendY": 11}}
          }
        },
        {
          "data": {"name": "bars"}, "transform": [{"filter": "datum.metal === 'Arsenico' && datum.year === '2014 gen-giu'"}],
          "mark": {"type": "bar", "strokeWidth": 1.5, "stroke": "#FFC000", "fill": {"gradient": "linear", "x1": 0, "y1": 1, "x2": 1.0998, "y2": 0.1254, "stops": [
            {"offset": 0, "color": "#FFC000"}, {"offset": 0.0182, "color": "#FFC000"}, {"offset": 0.0182, "color": "#FFFFFF"}, {"offset": 0.0455, "color": "#FFFFFF"},
            {"offset": 0.0455, "color": "#FFC000"}, {"offset": 0.0636, "color": "#FFC000"}, {"offset": 0.0636, "color": "#FFFFFF"}, {"offset": 0.0909, "color": "#FFFFFF"},
            {"offset": 0.0909, "color": "#FFC000"}, {"offset": 0.1091, "color": "#FFC000"}, {"offset": 0.1091, "color": "#FFFFFF"}, {"offset": 0.1364, "color": "#FFFFFF"},
            {"offset": 0.1364, "color": "#FFC000"}, {"offset": 0.1545, "color": "#FFC000"}, {"offset": 0.1545, "color": "#FFFFFF"}, {"offset": 0.1818, "color": "#FFFFFF"},
            {"offset": 0.1818, "color": "#FFC000"}, {"offset": 0.2, "color": "#FFC000"}, {"offset": 0.2, "color": "#FFFFFF"}, {"offset": 0.2273, "color": "#FFFFFF"},
            {"offset": 0.2273, "color": "#FFC000"}, {"offset": 0.2455, "color": "#FFC000"}, {"offset": 0.2455, "color": "#FFFFFF"}, {"offset": 0.2727, "color": "#FFFFFF"},
            {"offset": 0.2727, "color": "#FFC000"}, {"offset": 0.2909, "color": "#FFC000"}, {"offset": 0.2909, "color": "#FFFFFF"}, {"offset": 0.3182, "color": "#FFFFFF"},
            {"offset": 0.3182, "color": "#FFC000"}, {"offset": 0.3364, "color": "#FFC000"}, {"offset": 0.3364, "color": "#FFFFFF"}, {"offset": 0.3636, "color": "#FFFFFF"},
            {"offset": 0.3636, "color": "#FFC000"}, {"offset": 0.3818, "color": "#FFC000"}, {"offset": 0.3818, "color": "#FFFFFF"}, {"offset": 0.4091, "color": "#FFFFFF"},
            {"offset": 0.4091, "color": "#FFC000"}, {"offset": 0.4273, "color": "#FFC000"}, {"offset": 0.4273, "color": "#FFFFFF"}, {"offset": 0.4545, "color": "#FFFFFF"},
            {"offset": 0.4545, "color": "#FFC000"}, {"offset": 0.4727, "color": "#FFC000"}, {"offset": 0.4727, "color": "#FFFFFF"}, {"offset": 0.5, "color": "#FFFFFF"},
            {"offset": 0.5, "color": "#FFC000"}, {"offset": 0.5182, "color": "#FFC000"}, {"offset": 0.5182, "color": "#FFFFFF"}, {"offset": 0.5455, "color": "#FFFFFF"},
            {"offset": 0.5455, "color": "#FFC000"}, {"offset": 0.5636, "color": "#FFC000"}, {"offset": 0.5636, "color": "#FFFFFF"}, {"offset": 0.5909, "color": "#FFFFFF"},
            {"offset": 0.5909, "color": "#FFC000"}, {"offset": 0.6091, "color": "#FFC000"}, {"offset": 0.6091, "color": "#FFFFFF"}, {"offset": 0.6364, "color": "#FFFFFF"},
            {"offset": 0.6364, "color": "#FFC000"}, {"offset": 0.6545, "color": "#FFC000"}, {"offset": 0.6545, "color": "#FFFFFF"}, {"offset": 0.6818, "color": "#FFFFFF"},
            {"offset": 0.6818, "color": "#FFC000"}, {"offset": 0.7, "color": "#FFC000"}, {"offset": 0.7, "color": "#FFFFFF"}, {"offset": 0.7273, "color": "#FFFFFF"},
            {"offset": 0.7273, "color": "#FFC000"}, {"offset": 0.7455, "color": "#FFC000"}, {"offset": 0.7455, "color": "#FFFFFF"}, {"offset": 0.7727, "color": "#FFFFFF"},
            {"offset": 0.7727, "color": "#FFC000"}, {"offset": 0.7909, "color": "#FFC000"}, {"offset": 0.7909, "color": "#FFFFFF"}, {"offset": 0.8182, "color": "#FFFFFF"},
            {"offset": 0.8182, "color": "#FFC000"}, {"offset": 0.8364, "color": "#FFC000"}, {"offset": 0.8364, "color": "#FFFFFF"}, {"offset": 0.8636, "color": "#FFFFFF"},
            {"offset": 0.8636, "color": "#FFC000"}, {"offset": 0.8818, "color": "#FFC000"}, {"offset": 0.8818, "color": "#FFFFFF"}, {"offset": 0.9091, "color": "#FFFFFF"},
            {"offset": 0.9091, "color": "#FFC000"}, {"offset": 0.9273, "color": "#FFC000"}, {"offset": 0.9273, "color": "#FFFFFF"}, {"offset": 0.9545, "color": "#FFFFFF"},
            {"offset": 0.9545, "color": "#FFC000"}, {"offset": 0.9727, "color": "#FFC000"}, {"offset": 0.9727, "color": "#FFFFFF"}, {"offset": 1, "color": "#FFFFFF"}
          ]}},
          "encoding": {
            "x": {"field": "site", "type": "nominal"},
            "xOffset": {"field": "year", "type": "nominal", "scale": {"domain": ["2011", "2012", "2013", "2014 gen-giu"], "paddingInner": 0, "paddingOuter": 0.75}},
            "y": {"field": "value", "type": "quantitative"}
          }
        },
        {
          "data": {"name": "bars"}, "transform": [{"filter": "datum.metal === 'Arsenico'"}],
          "mark": {"type": "text", "baseline": "middle", "dy": -31, "fontSize": 31},
          "encoding": {
            "x": {"field": "site", "type": "nominal"},
            "xOffset": {"field": "year", "type": "nominal"},
            "y": {"field": "value", "type": "quantitative"},
            "text": {"field": "label"}
          }
        },
        {
          "data": {"name": "one"},
          "mark": {"type": "rule", "color": "#FF0000", "strokeWidth": 5.5, "strokeDash": [24, 18], "xOffset": -13, "x2Offset": -14},
          "encoding": {
            "x": {"datum": "AO - Pzza Plouves", "type": "nominal", "bandPosition": 0},
            "x2": {"datum": "AO - Pzza Plouves", "bandPosition": 1},
            "y": {"datum": 6, "type": "quantitative"}
          }
        },
        {
          "data": {"name": "one"},
          "mark": {"type": "rect", "stroke": "#D2461E", "strokeWidth": 2, "fill": {"gradient": "linear", "x1": 0, "y1": 0, "x2": 1, "y2": 1, "stops": [{"offset": 0, "color": "#FFFFFF"}, {"offset": 0.5, "color": "#F2E4E4"}, {"offset": 1, "color": "#FFFFFF"}]}},
          "encoding": {
            "x": {"datum": "AO - Pzza Plouves", "type": "nominal", "bandPosition": 0.3785},
            "x2": {"datum": "AO - Pzza Plouves", "bandPosition": 1.1475},
            "y": {"datum": 5.772, "type": "quantitative"},
            "y2": {"datum": 4.503}
          }
        },
        {
          "data": {"name": "one"},
          "mark": {"type": "text", "font": "Liberation Sans", "fontWeight": "bold", "fontSize": 38, "color": "#D03A00", "baseline": "middle", "lineHeight": 58},
          "encoding": {
            "x": {"datum": "AO - Pzza Plouves", "type": "nominal", "bandPosition": 0.7725},
            "y": {"datum": 5.409, "type": "quantitative"},
            "text": {"value": ["Valore obiettivo:", "6 ng/m³"]}
          }
        },
        {
          "data": {"name": "one"},
          "mark": {"type": "text", "fontWeight": "bold", "fontSize": 48, "baseline": "alphabetic"},
          "encoding": {
            "x": {"datum": "AO - Pzza Plouves", "type": "nominal", "bandPosition": 0.4334},
            "y": {"datum": 3.735, "type": "quantitative"},
            "text": {"value": "Arsenico"}
          }
        },
        {
          "data": {"name": "one"},
          "mark": {"type": "text", "fontSize": 40, "baseline": "alphabetic", "dy": 74},
          "encoding": {
            "x": {"datum": "AO - Pzza Plouves", "type": "nominal", "bandPosition": 0.5},
            "y": {"datum": 0, "type": "quantitative"},
            "text": {"value": "AO - Pzza Plouves"}
          }
        }
      ]
    }
  ]
}
